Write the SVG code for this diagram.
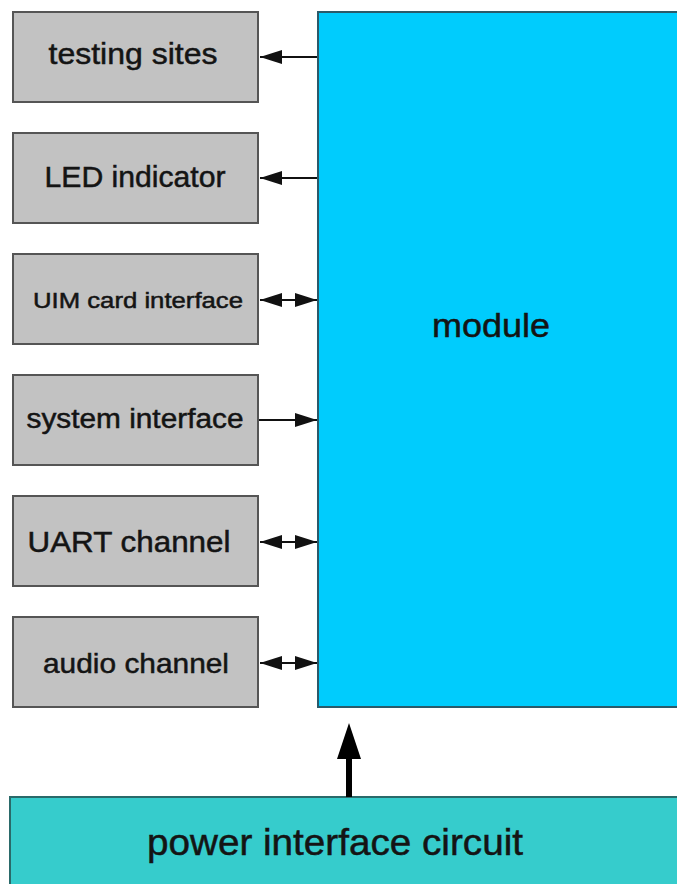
<svg xmlns="http://www.w3.org/2000/svg" width="677" height="884" viewBox="0 0 677 884">
<style>
.box{fill:#c2c2c2;stroke:#555;stroke-width:2}
.lbl{font-family:"Liberation Sans",Arial,sans-serif;fill:#141414;stroke:#141414;stroke-width:0.5;text-anchor:middle}
.ln{stroke:#111;stroke-width:2;fill:none}
</style>
<defs>
<marker id="ah" markerUnits="userSpaceOnUse" markerWidth="22" markerHeight="16" refX="22" refY="8" orient="auto-start-reverse">
<path d="M0,1 L22,8 L0,15 Z" fill="#111"/>
</marker>
</defs>
<rect width="677" height="884" fill="#fff"/>
<g id="module">
<rect x="318" y="12" width="370" height="695" fill="#00ccfd" stroke="#2a5a6a" stroke-width="2"/>
<text class="lbl" x="491" y="337" font-size="33" textLength="118" lengthAdjust="spacingAndGlyphs">module</text>
</g>
<g id="power">
<rect x="10" y="797" width="680" height="100" fill="#36cccc" stroke="#2a6a6a" stroke-width="2"/>
<text class="lbl" x="335" y="855" font-size="37" textLength="376" lengthAdjust="spacingAndGlyphs">power interface circuit</text>
</g>
<g id="testing-sites">
<rect class="box" x="13" y="12" width="245" height="90"/>
<text class="lbl" x="133" y="64" font-size="30" textLength="169" lengthAdjust="spacingAndGlyphs">testing sites</text>
</g>
<g id="led-indicator">
<rect class="box" x="13" y="133" width="245" height="90"/>
<text class="lbl" x="135" y="187" font-size="29" textLength="181" lengthAdjust="spacingAndGlyphs">LED indicator</text>
</g>
<g id="uim-card-interface">
<rect class="box" x="13" y="254" width="245" height="90"/>
<text class="lbl" x="138" y="308" font-size="22" textLength="210" lengthAdjust="spacingAndGlyphs">UIM card interface</text>
</g>
<g id="system-interface">
<rect class="box" x="13" y="375" width="245" height="90"/>
<text class="lbl" x="135" y="428" font-size="27" textLength="217" lengthAdjust="spacingAndGlyphs">system interface</text>
</g>
<g id="uart-channel">
<rect class="box" x="13" y="496" width="245" height="90"/>
<text class="lbl" x="129" y="552" font-size="29" textLength="203" lengthAdjust="spacingAndGlyphs">UART channel</text>
</g>
<g id="audio-channel">
<rect class="box" x="13" y="617" width="245" height="90"/>
<text class="lbl" x="136" y="673" font-size="28" textLength="186" lengthAdjust="spacingAndGlyphs">audio channel</text>
</g>
<g id="connectors">
<line class="ln" x1="317" y1="57" x2="260" y2="57" marker-end="url(#ah)"/>
<line class="ln" x1="317" y1="178" x2="260" y2="178" marker-end="url(#ah)"/>
<line class="ln" x1="260" y1="300" x2="317" y2="300" marker-start="url(#ah)" marker-end="url(#ah)"/>
<line class="ln" x1="259" y1="420" x2="317" y2="420" marker-end="url(#ah)"/>
<line class="ln" x1="260" y1="542" x2="317" y2="542" marker-start="url(#ah)" marker-end="url(#ah)"/>
<line class="ln" x1="260" y1="663" x2="317" y2="663" marker-start="url(#ah)" marker-end="url(#ah)"/>
<line x1="349" y1="797" x2="349" y2="755" stroke="#000" stroke-width="6"/>
<path d="M349,723 L361,759 L337,759 Z" fill="#000"/>
</g>
</svg>
